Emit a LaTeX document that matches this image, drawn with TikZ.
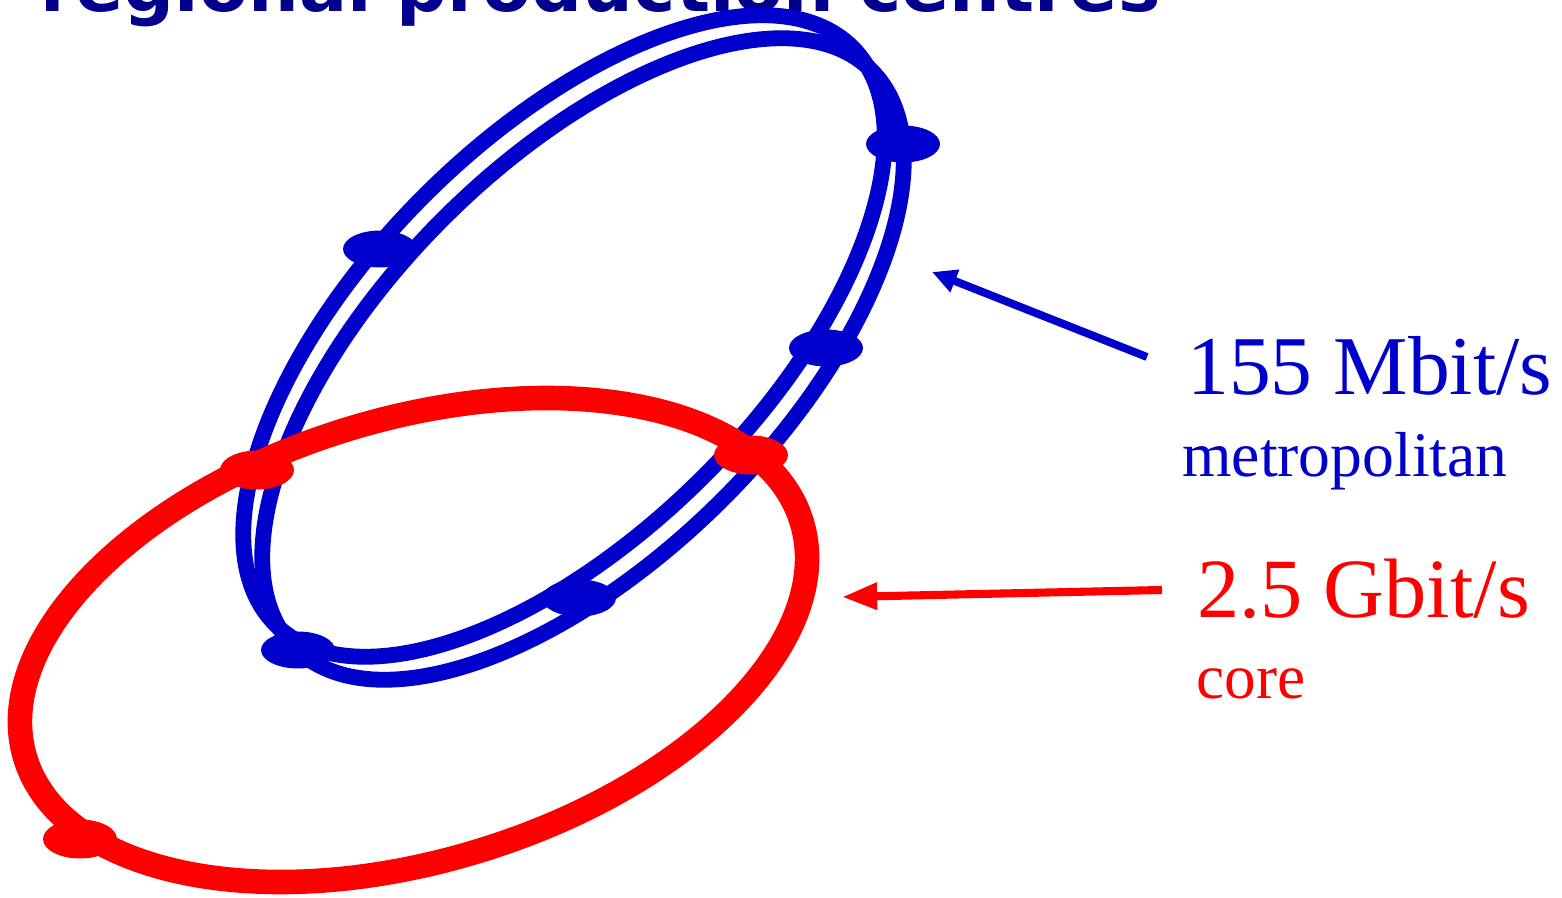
\documentclass[tikz,border=0pt]{standalone}
\usepackage{fontspec}
\setmainfont{Liberation Serif}
\newfontfamily\titlefont{DejaVu Sans}
\usetikzlibrary{shapes.geometric,arrows.meta}
\definecolor{ringblue}{RGB}{0,0,204}
\definecolor{titleblue}{RGB}{0,0,140}
\definecolor{ringred}{RGB}{255,0,0}
\begin{document}
\begin{tikzpicture}[x=0.02cm,y=0.02cm,
  blueline/.style={draw=ringblue,line width=9pt},
  redline/.style={draw=ringred,line width=14pt},
  bluedot/.style={ellipse,fill=ringblue,minimum width=1.48cm,minimum height=0.74cm,inner sep=0pt},
  reddot/.style={ellipse,fill=ringred,minimum width=1.48cm,minimum height=0.78cm,inner sep=0pt},
  txtlabel/.style={inner sep=0pt,anchor=base west},
  bluearrow/.style={draw=ringblue,line width=4.5pt,-{Triangle[length=14pt,width=13pt]}},
  redarrow/.style={draw=ringred,line width=4.6pt,-{Triangle[length=20pt,width=14.5pt]}}]
\useasboundingbox (0,0) rectangle (1562,-898);
% title (cut off at the top)
\node[txtlabel,text=titleblue,font=\titlefont\bfseries\fontsize{40.6}{48}\selectfont] (title) at (40,-12) {regional production centres};
% metropolitan double ring
\draw[blueline,rotate around={45:(564,-336)}] (564,-336) ellipse [x radius=408,y radius=198];
\draw[blueline,rotate around={45:(583,-359)}] (583,-359) ellipse [x radius=408,y radius=198];
% core ring
\draw[redline,rotate around={16.9:(413.5,-640)}] (413.5,-640) ellipse [x radius=405.8,y radius=220.8];
% metropolitan nodes
\node[bluedot] (b1) at (903,-144) {};
\node[bluedot] (b2) at (380,-249) {};
\node[bluedot] (b3) at (826,-348) {};
\node[bluedot] (b4) at (579,-598) {};
\node[bluedot] (b5) at (298,-650) {};
% core nodes
\node[reddot] (r1) at (257,-470) {};
\node[reddot] (r2) at (751,-455) {};
\node[reddot] (r3) at (80,-839) {};
% labels
\node[txtlabel,text=ringblue,font=\fontsize{47.6}{56}\selectfont] (mspeed) at (1187,-395) {155 Mbit/s};
\node[txtlabel,text=ringblue,font=\fontsize{36.2}{43}\selectfont] (mname) at (1182,-477) {metropolitan};
\node[txtlabel,text=ringred,font=\fontsize{48}{56}\selectfont] (cspeed) at (1197,-617) {2.5 Gbit/s};
\node[txtlabel,text=ringred,font=\fontsize{36}{43}\selectfont] (cname) at (1196,-698) {core};
% arrows
\coordinate (mfrom) at (1147,-357);
\coordinate (mto) at (932,-272);
\coordinate (cfrom) at (1162,-590);
\coordinate (cto) at (842,-597);
\draw[bluearrow] (mfrom) -- (mto);
\draw[redarrow] (cfrom) -- (cto);
\end{tikzpicture}
\end{document}
